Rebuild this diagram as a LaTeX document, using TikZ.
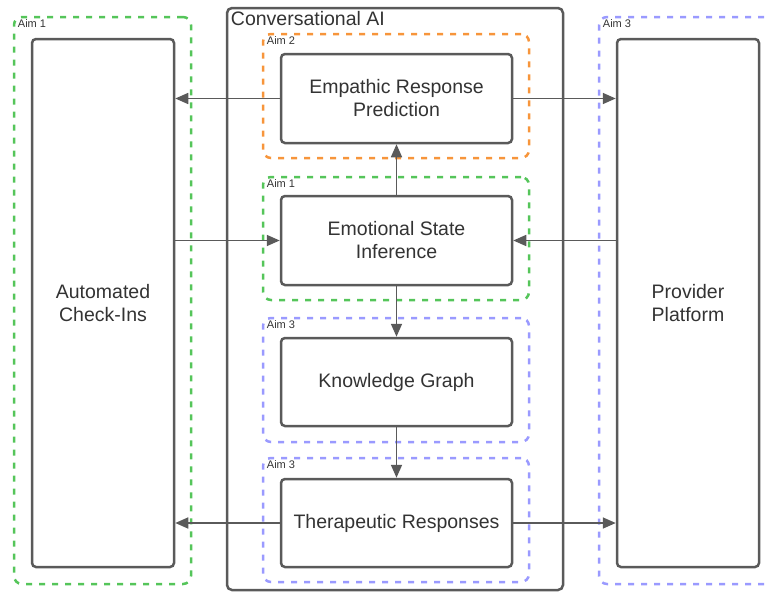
\documentclass[tikz,border=0pt]{standalone}
\usepackage{fontspec}
\setmainfont{Liberation Sans}
\usetikzlibrary{arrows.meta}
\definecolor{lc}{HTML}{5A5A5A}
\definecolor{tc}{HTML}{333333}
\definecolor{ag}{HTML}{55C55A}
\definecolor{ao}{HTML}{F7953B}
\definecolor{ab}{HTML}{9A9AFF}
\begin{document}
\begin{tikzpicture}[x=1pt,y=-1pt,
  box/.style={draw=lc, line width=2.5pt, rounded corners=4pt, fill=white, align=center,
    text=tc, font=\fontsize{19.5}{23}\selectfont, inner sep=0pt},
  aimbox/.style={draw=#1, line width=2.5pt, rounded corners=8pt, dash pattern=on 6pt off 7pt, inner sep=0pt},
  aimlbl/.style={anchor=north west, inner sep=0pt, text=tc, font=\fontsize{11}{13}\selectfont},
  container/.style={draw=lc, line width=2.5pt, rounded corners=5pt, inner sep=0pt},
  arr/.style={draw=lc, line width=1.7pt, -{Triangle[length=13pt,width=11pt]}}
]
\useasboundingbox (0,0) rectangle (770,592);

% outer aim regions
\node[aimbox=ag, minimum width=177pt, minimum height=567pt] (aimL) at (102.5,300.5) {};
\node[aimlbl] (aimLl) at ([shift={(5,4)}]aimL.north west) {Aim 1};
\node[aimbox=ab, minimum width=251pt, minimum height=567pt] (aimR) at (724.5,300.5) {};
\node[aimlbl] (aimRl) at ([shift={(5,4)}]aimR.north west) {Aim 3};

% conversational AI container
\node[container, minimum width=336pt, minimum height=582pt] (conv) at (395,299) {};
\node[anchor=north west, inner sep=0pt, text=tc, font=\fontsize{19.5}{23}\selectfont] (convl)
  at ([shift={(5,4)}]conv.north west) {Conversational AI};

% inner aim regions
\node[aimbox=ao, minimum width=266pt, minimum height=124pt] (aim2) at (396,96) {};
\node[aimlbl] (aim2l) at ([shift={(5,4)}]aim2.north west) {Aim 2};
\node[aimbox=ag, minimum width=266pt, minimum height=123pt] (aim1m) at (396,238.5) {};
\node[aimlbl] (aim1ml) at ([shift={(5,4)}]aim1m.north west) {Aim 1};
\node[aimbox=ab, minimum width=266pt, minimum height=124pt] (aim3a) at (396,380) {};
\node[aimlbl] (aim3al) at ([shift={(5,4)}]aim3a.north west) {Aim 3};
\node[aimbox=ab, minimum width=266pt, minimum height=124pt] (aim3b) at (396,520) {};
\node[aimlbl] (aim3bl) at ([shift={(5,4)}]aim3b.north west) {Aim 3};

% main boxes
\node[box, minimum width=142pt, minimum height=528pt] (aci) at (103,303) {Automated\\Check-Ins};
\node[box, minimum width=142pt, minimum height=528pt] (pp) at (688,303) {Provider\\Platform};
\node[box, minimum width=231pt, minimum height=89pt] (erp) at (396.5,98.5) {Empathic Response\\Prediction};
\node[box, minimum width=231pt, minimum height=89pt] (esi) at (396.5,240.5) {Emotional State\\Inference};
\node[box, minimum width=231pt, minimum height=88pt] (kg) at (396.5,382) {Knowledge Graph};
\node[box, minimum width=231pt, minimum height=88pt] (tr) at (396.5,523) {Therapeutic Responses};

% connectors
\draw[arr] (erp.west) -- (erp.west -| aci.east);
\draw[arr] (erp.east) -- (erp.east -| pp.west);
\draw[arr] (esi.west -| aci.east) -- (esi.west);
\draw[arr] (esi.east -| pp.west) -- (esi.east);
\draw[arr] (esi.north) -- (erp.south);
\draw[arr] (esi.south) -- (kg.north);
\draw[arr] (kg.south) -- (tr.north);
\draw[arr] (tr.west) -- (tr.west -| aci.east);
\draw[arr] (tr.east) -- (tr.east -| pp.west);
\end{tikzpicture}
\end{document}
